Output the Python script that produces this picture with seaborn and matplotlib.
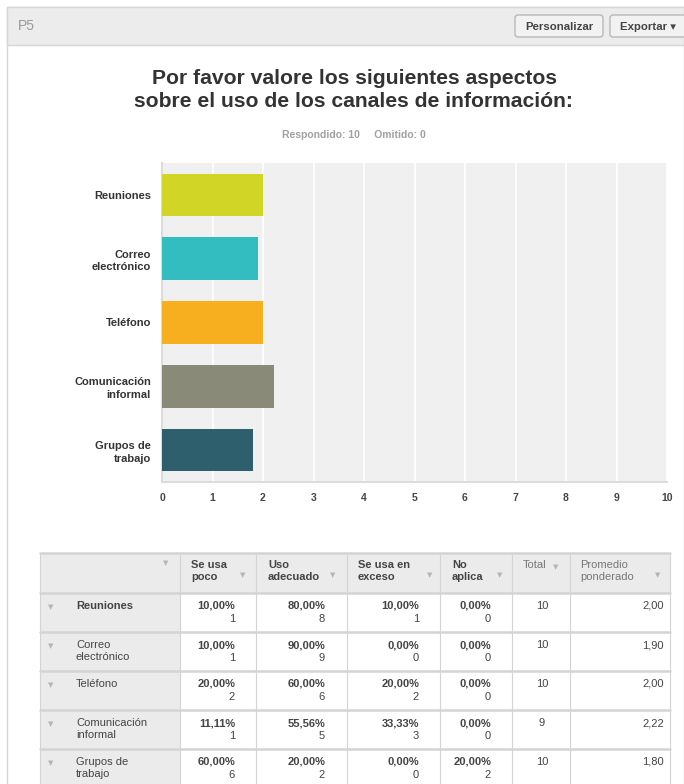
import matplotlib
matplotlib.use("Agg")
import matplotlib.pyplot as plt
import seaborn as sns
import pandas as pd
from matplotlib.patches import Rectangle, FancyBboxPatch

# ---------------- data ----------------
categories = ["Reuniones", "Correo\nelectrónico", "Teléfono", "Comunicación\ninformal", "Grupos de\ntrabajo"]
row_labels = ["Reuniones", "Correo\nelectrónico", "Teléfono", "Comunicación\ninformal", "Grupos de\ntrabajo"]
weighted_avg = [2.00, 1.90, 2.00, 2.22, 1.80]
bar_colors = ["#d0d526", "#33bdc0", "#f7ae1f", "#8a8a78", "#2e5f6c"]
x_ticks = [0, 1, 2, 3, 4, 5, 6, 7, 8, 9, 10]

col_headers = ["Se usa\npoco", "Uso\nadecuado", "Se usa en\nexceso", "No\naplica", "Total", "Promedio\nponderado"]
pct_poco = ["10,00%", "10,00%", "20,00%", "11,11%", "60,00%"]
pct_adecuado = ["80,00%", "90,00%", "60,00%", "55,56%", "20,00%"]
pct_exceso = ["10,00%", "0,00%", "20,00%", "33,33%", "0,00%"]
pct_noaplica = ["0,00%", "0,00%", "0,00%", "0,00%", "20,00%"]
n_poco = [1, 1, 2, 1, 6]
n_adecuado = [8, 9, 6, 5, 2]
n_exceso = [1, 0, 2, 3, 0]
n_noaplica = [0, 0, 0, 0, 2]
totals = [10, 10, 10, 9, 10]
avg_labels = ["2,00", "1,90", "2,00", "2,22", "1,80"]

title = "Por favor valore los siguientes aspectos\nsobre el uso de los canales de información:"
subtitle = "Respondido: 10     Omitido: 0"

# ---------------- figure ----------------
W, H = 684, 784
sns.set_theme(style="white")
plt.rcParams["font.family"] = ["Liberation Sans", "DejaVu Sans"]
fig = plt.figure(figsize=(W / 100, H / 100), dpi=100)
fig.patch.set_facecolor("white")

# overlay axis in pixel coordinates for page decorations
deco = fig.add_axes([0, 0, 1, 1])
deco.set_xlim(0, W)
deco.set_ylim(H, 0)
deco.axis("off")
deco.set_zorder(0)

# outer panel border
deco.add_patch(Rectangle((7, 7), W - 7, H, facecolor="white", edgecolor="#d6d6d6", lw=1))
# header strip
deco.add_patch(Rectangle((7, 7), W - 7, 38, facecolor="#ececec", edgecolor="#d6d6d6", lw=1))
deco.text(18, 26, "P5", fontsize=10, color="#9a9a9a", va="center", ha="left")
for (x0, x1, lab) in [(515, 603, "Personalizar"), (610, 690, "Exportar ▾")]:
    deco.add_patch(FancyBboxPatch((x0, 15), x1 - x0, 22, boxstyle="round,pad=0,rounding_size=3",
                                  facecolor="#f2f2f2", edgecolor="#b8b8b8", lw=1))
    deco.text(x0 + 10 if lab.startswith("Exp") else (x0 + x1) / 2, 26.5, lab, fontsize=8.2,
              color="#444444", va="center", ha="left" if lab.startswith("Exp") else "center",
              fontweight="bold", family=["Liberation Sans", "DejaVu Sans"])

deco.text(354, 90, title, fontsize=15.2, fontweight="bold", color="#333333",
          ha="center", va="center", linespacing=1.22)
deco.text(354, 135, subtitle, fontsize=7.5, fontweight="bold", color="#a0a0a0",
          ha="center", va="center")

# ---------------- bar chart ----------------
ax_l, ax_r, ax_t, ax_b = 162, 667, 163, 482
ax = fig.add_axes([ax_l / W, 1 - ax_b / H, (ax_r - ax_l) / W, (ax_b - ax_t) / H])
ax.set_zorder(1)
df = pd.DataFrame({"cat": categories, "val": weighted_avg})
sns.barplot(data=df, y="cat", x="val", hue="cat", palette=bar_colors, legend=False,
            width=0.667, saturation=1, ax=ax, zorder=3, linewidth=0, edgecolor="none")
ax.set_facecolor("#f0f0f0")
ax.set_xlim(0, 10)
ax.set_xticks(x_ticks)
ax.set_xticklabels([str(t) for t in x_ticks])
ax.set_ylim(4.5, -0.5)
ax.grid(axis="x", color="white", lw=1.2, zorder=0)
ax.grid(axis="y", visible=False)
ax.set_axisbelow(True)
ax.set_xlabel("")
ax.set_ylabel("")
for s in ["top", "right"]:
    ax.spines[s].set_visible(False)
for s in ["left", "bottom"]:
    ax.spines[s].set_color("#dcdcdc")
    ax.spines[s].set_linewidth(1.5)
ax.tick_params(axis="x", length=0, pad=8, labelsize=7.5, labelcolor="#444444")
ax.tick_params(axis="y", length=0, pad=8, labelsize=8, labelcolor="#333333")
for lab in ax.get_xticklabels():
    lab.set_fontweight("bold")
for lab in ax.get_yticklabels():
    lab.set_fontweight("bold")
    lab.set_horizontalalignment("right")
    lab.set_multialignment("right")
    lab.set_linespacing(1.3)

# ---------------- table ----------------
cols = [40, 180, 256, 347, 440, 512, 570, 670]
rows = [553, 593, 632, 671, 710, 749, 788]
grey = "#ebebeb"
line = "#d4d4d4"
tcol = "#444444"
tri = "#b5b5b5"

deco.add_patch(Rectangle((cols[0], rows[0]), cols[-1] - cols[0], rows[1] - rows[0],
                         facecolor=grey, edgecolor="none", zorder=1))
deco.add_patch(Rectangle((cols[0], rows[0]), cols[1] - cols[0], rows[-1] - rows[0],
                         facecolor=grey, edgecolor="none", zorder=1))
for y in rows[:-1]:
    deco.plot([cols[0], cols[-1]], [y, y], color=line, lw=1.8, zorder=2)
for x in cols:
    deco.plot([x, x], [rows[0], rows[-1]], color=line, lw=0.8, zorder=2)

fs = 8
deco.text(166, 563, "▼", fontsize=5, color=tri, ha="center", va="center", family=["DejaVu Sans"])
hdr_x = [191, 268, 358, 452, 523, 580]
tri_x = [243, 333, 430, 500, 556, 658]
for i, h in enumerate(col_headers):
    deco.text(hdr_x[i], 560, h, fontsize=fs, color=tcol if i < 4 else "#777777", ha="left", va="top",
              linespacing=1.3, fontweight="bold" if i < 4 else "normal")
    deco.text(tri_x[i], 575 if i != 4 else 567, "▼", fontsize=5, color=tri, ha="center", va="center",
              family=["DejaVu Sans"])

pct_cols = [pct_poco, pct_adecuado, pct_exceso, pct_noaplica]
n_cols = [n_poco, n_adecuado, n_exceso, n_noaplica]
right_x = [235, 325, 419, 491]
for r, lab in enumerate(row_labels):
    y0 = rows[r + 1]
    deco.text(51, y0 + 14, "▼", fontsize=5, color=tri, ha="center", va="center", family=["DejaVu Sans"])
    deco.text(76, y0 + 8, lab, fontsize=fs, color=tcol, ha="left", va="top", linespacing=1.3,
              fontweight="bold" if r == 0 else "normal")
    for c in range(4):
        deco.text(right_x[c], y0 + 8, pct_cols[c][r], fontsize=fs, color=tcol, ha="right", va="top",
                  fontweight="bold")
        deco.text(right_x[c], y0 + 21, str(n_cols[c][r]), fontsize=fs, color=tcol, ha="right", va="top")
    deco.text(542, y0 + 8, str(totals[r]), fontsize=fs, color=tcol, ha="center", va="top")
    deco.text(664, y0 + 8, avg_labels[r], fontsize=fs, color=tcol, ha="right", va="top")

fig.savefig("out.png", dpi=100, facecolor="white")
